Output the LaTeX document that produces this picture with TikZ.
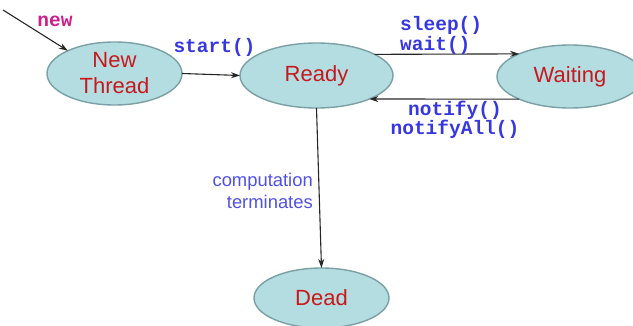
\documentclass[tikz,border=0pt]{standalone}
\usepackage{fontspec}
\setmainfont{Liberation Sans}
\setmonofont{Liberation Mono}
\usetikzlibrary{shapes.geometric,arrows.meta}

\definecolor{statefill}{RGB}{180,221,226}
\definecolor{statedraw}{RGB}{122,160,164}
\definecolor{statetext}{RGB}{200,24,28}
\definecolor{callblue}{RGB}{55,55,225}
\definecolor{newpink}{RGB}{205,30,140}
\definecolor{noteblue}{RGB}{80,80,230}

\tikzset{
	state/.style={ellipse, fill=statefill, draw=statedraw, line width=1.4pt,
		inner sep=0pt, outer sep=0pt, text=statetext, align=center,
		font=\fontsize{22}{26}\selectfont},
	call/.style={text=callblue, inner sep=0pt, font=\ttfamily\bfseries\fontsize{19.5}{16.5}\selectfont},
	note/.style={text=noteblue, inner sep=0pt, align=right, font=\fontsize{18.4}{22}\selectfont},
	trans/.style={line width=1.1pt, draw=black!85, -{Stealth[length=9pt,width=6pt]}}
}

\begin{document}
\begin{tikzpicture}[x=1pt,y=-1pt]
	\useasboundingbox (0,0) rectangle (633,326);
	
	% 1. States
	\node[state, minimum width=135pt, minimum height=63pt] (newthr) at (114.5,73.5) {New\\Thread};
	\node[state, minimum width=153pt, minimum height=65pt] (ready) at (316.5,75.5) {Ready};
	\node[state, minimum width=146pt, minimum height=63pt] (waiting) at (570,76.5) {Waiting};
	\node[state, minimum width=135pt, minimum height=60pt] (dead) at (321.5,298) {Dead};
	
	% 2. Transitions
	\coordinate (newsrc) at (3,10);
	\draw[trans] (newsrc) -- (newthr.154.6);
	\draw[trans] (newthr.east) -- (ready.west);
	\draw[trans] (ready.20.5) -- (waiting.156);
	\draw[trans] (waiting.204) -- (ready.-24);
	\draw[trans] (ready.south) -- (dead.north);
	
	% 3. Labels
	\node[call, text=newpink, anchor=base] (newlbl) at (55,27) {new};
	\node[call, anchor=base] (startlbl) at (214.5,53) {start()};
	\node[call, align=left, anchor=west] (sleeplbl) at (400,35.5) {sleep()\\wait()};
	\node[call, align=center] (notifylbl) at (455,120) {notify()\\notifyAll()};
	\node[note, anchor=east] (comptlbl) at (313,191) {computation\\terminates};
\end{tikzpicture}
\end{document}
